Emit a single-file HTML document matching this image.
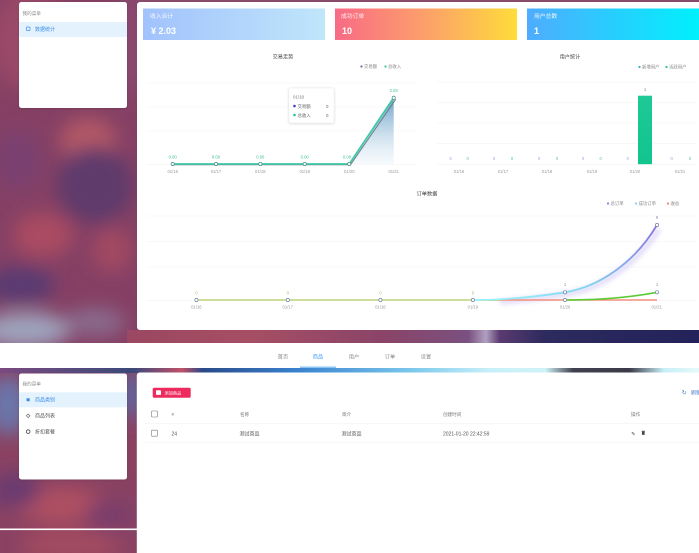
<!DOCTYPE html>
<html><head><meta charset="utf-8">
<style>
html,body{margin:0;padding:0;width:699px;height:553px;overflow:hidden;background:#fff}
svg{display:block}
text{font-family:"Liberation Sans","Noto Sans CJK SC",sans-serif}
</style></head><body>
<svg width="699" height="553" viewBox="0 0 699 553" xmlns="http://www.w3.org/2000/svg">
<defs>
 <filter id="b10" x="-50%" y="-50%" width="200%" height="200%"><feGaussianBlur stdDeviation="9"/></filter>
 <filter id="b3" x="-20%" y="-50%" width="140%" height="200%"><feGaussianBlur stdDeviation="2"/></filter>
 <filter id="sh" x="-20%" y="-20%" width="140%" height="140%"><feDropShadow dx="0" dy="0.5" stdDeviation="1" flood-color="#000" flood-opacity="0.18"/></filter>
 <clipPath id="topc"><rect x="0" y="0" width="699" height="343"/></clipPath>
 <clipPath id="botc"><rect x="0" y="373" width="699" height="180"/></clipPath>
 <linearGradient id="g1" x1="0" x2="1" y1="0" y2="0"><stop offset="0" stop-color="#a1c2fc"/><stop offset="1" stop-color="#c0e6fb"/></linearGradient>
 <linearGradient id="g2" x1="0" x2="1" y1="0" y2="0"><stop offset="0" stop-color="#f86b86"/><stop offset="0.5" stop-color="#fca06a"/><stop offset="1" stop-color="#fedc3a"/></linearGradient>
 <linearGradient id="g3" x1="0" x2="1" y1="0" y2="0"><stop offset="0" stop-color="#4facfe"/><stop offset="1" stop-color="#00f0fe"/></linearGradient>
 <linearGradient id="strip1" gradientUnits="userSpaceOnUse" x1="0" x2="699" y1="0" y2="0">
  <stop offset="0" stop-color="#8a4e78"/><stop offset="0.2" stop-color="#9c4862"/><stop offset="0.36" stop-color="#a64e64"/>
  <stop offset="0.55" stop-color="#8a4468"/><stop offset="0.67" stop-color="#7a5080"/><stop offset="0.695" stop-color="#b0a0c0"/>
  <stop offset="0.715" stop-color="#5a3a70"/><stop offset="0.78" stop-color="#2c2a5e"/><stop offset="1" stop-color="#23225a"/>
 </linearGradient>
 <linearGradient id="strip2" gradientUnits="userSpaceOnUse" x1="0" x2="699" y1="0" y2="0">
  <stop offset="0" stop-color="#7a4a80"/><stop offset="0.19" stop-color="#3a4a7a"/><stop offset="0.26" stop-color="#c05068"/>
  <stop offset="0.29" stop-color="#2a4a8a"/><stop offset="0.43" stop-color="#3a84d0"/><stop offset="0.59" stop-color="#7cc8ec"/>
  <stop offset="0.7" stop-color="#c8f0f8"/><stop offset="0.78" stop-color="#d0f2f8"/><stop offset="0.82" stop-color="#404050"/>
  <stop offset="0.9" stop-color="#3a3a48"/><stop offset="0.95" stop-color="#c8f0f8"/><stop offset="1" stop-color="#e6f8fa"/>
 </linearGradient>
 <linearGradient id="area1" x1="0" x2="0" y1="0" y2="1"><stop offset="0" stop-color="#4f8fbf" stop-opacity="0.85"/><stop offset="1" stop-color="#cfe3f0" stop-opacity="0.2"/></linearGradient>
 <linearGradient id="curve" gradientUnits="userSpaceOnUse" x1="500" y1="300" x2="657" y2="225"><stop offset="0" stop-color="#98f0f8"/><stop offset="0.5" stop-color="#80d4f0"/><stop offset="1" stop-color="#8a74e0"/></linearGradient>
 <linearGradient id="bar" x1="0" x2="0" y1="0" y2="1"><stop offset="0" stop-color="#1ec996"/><stop offset="1" stop-color="#12c48e"/></linearGradient>
</defs>

<!-- TOP BACKGROUND -->
<g clip-path="url(#topc)">
 <rect x="0" y="0" width="699" height="343" fill="#854064"/>
 <g filter="url(#b10)">
  <ellipse cx="30" cy="40" rx="40" ry="50" fill="#9a4a68"/>
  <ellipse cx="130" cy="40" rx="15" ry="60" fill="#8a4870"/>
  <ellipse cx="88" cy="140" rx="28" ry="22" fill="#b25866"/>
  <ellipse cx="95" cy="185" rx="38" ry="38" fill="#5e3a6c"/>
  <ellipse cx="18" cy="160" rx="25" ry="30" fill="#7a4070"/>
  <ellipse cx="43" cy="235" rx="30" ry="22" fill="#aa4c62"/>
  <ellipse cx="112" cy="250" rx="20" ry="22" fill="#a24a62"/>
  <ellipse cx="20" cy="285" rx="35" ry="18" fill="#5a3a72"/>
  <ellipse cx="25" cy="330" rx="45" ry="18" fill="#9ea2bc"/>
  <ellipse cx="95" cy="322" rx="30" ry="14" fill="#8a6a8c"/>
 </g>
 <rect x="127" y="330" width="572" height="13" fill="url(#strip1)"/>
 <rect x="137" y="0" width="562" height="2" fill="#8a4a6a"/>
</g>

<!-- TOP SIDEBAR -->
<rect x="19" y="2" width="108" height="106" rx="2.5" fill="#fff" filter="url(#sh)"/>
<text x="22.5" y="15" font-size="4.6" fill="#888">我的菜单</text>
<rect x="19" y="22" width="108" height="15" fill="#e4f2fd"/>
<rect x="26.5" y="27" width="3.5" height="3.5" rx="0.5" fill="none" stroke="#3a8ee6" stroke-width="0.7"/>
<text x="35" y="31" font-size="5" fill="#3a8ee6">数据统计</text>

<!-- TOP MAIN CARD -->
<rect x="137" y="2" width="566" height="328" rx="3" fill="#fff"/>

<!-- stat cards -->
<rect x="143" y="8.5" width="182" height="31.5" fill="url(#g1)"/>
<text x="150" y="18" font-size="5.8" fill="#fff" fill-opacity="0.9">收入合计</text>
<text x="151" y="34" font-size="9" font-weight="bold" fill="#fff">¥ 2.03</text>
<rect x="335" y="8.5" width="182" height="31.5" fill="url(#g2)"/>
<text x="341" y="18" font-size="5.8" fill="#fff" fill-opacity="0.9">成功订单</text>
<text x="342" y="34" font-size="9" font-weight="bold" fill="#fff">10</text>
<rect x="527" y="8.5" width="172" height="31.5" fill="url(#g3)"/>
<text x="534" y="18" font-size="5.8" fill="#fff" fill-opacity="0.9">用户总数</text>
<text x="534" y="34" font-size="9" font-weight="bold" fill="#fff">1</text>

<!-- CHART 1 -->
<text x="283" y="58.5" font-size="5.2" fill="#444" text-anchor="middle">交易走势</text>
<circle cx="361.5" cy="66.5" r="1.1" fill="#6a6aa8"/><text x="364" y="68.2" font-size="4.4" fill="#888">交易额</text>
<circle cx="385.5" cy="66.5" r="1.1" fill="#3cc4a4"/><text x="388" y="68.2" font-size="4.4" fill="#888">总收入</text>
<g stroke="#f1f1f1" stroke-width="0.6">
 <line x1="147" y1="83" x2="416" y2="83"/><line x1="147" y1="107" x2="416" y2="107"/>
 <line x1="147" y1="131" x2="416" y2="131"/><line x1="147" y1="164.5" x2="416" y2="164.5"/>
</g>
<polygon points="349.3,164 393.7,97.7 393.7,164" fill="url(#area1)"/>
<polyline points="172.7,164 349.3,164 394.5,98.5" fill="none" stroke="#6a7a8a" stroke-width="1" transform="translate(1.2,0.8)"/>
<polyline points="172.7,164 216,164 260.3,164 304.7,164 349.3,164 393.7,97.7" fill="none" stroke="#40c8a6" stroke-width="1.8"/>
<g fill="#fff" stroke="#4a8a84" stroke-width="0.7">
 <circle cx="172.7" cy="164" r="1.6"/><circle cx="216" cy="164" r="1.6"/><circle cx="260.3" cy="164" r="1.6"/>
 <circle cx="304.7" cy="164" r="1.6"/><circle cx="349.3" cy="164" r="1.6"/><circle cx="393.7" cy="97.7" r="1.6"/>
</g>
<g font-size="4.2" fill="#3cbf9c" text-anchor="middle">
 <text x="172.7" y="158.5">0.00</text><text x="216" y="158.5">0.00</text><text x="260.3" y="158.5">0.00</text>
 <text x="304.7" y="158.5">0.00</text><text x="347" y="158.5">0.00</text><text x="393.7" y="92">2.03</text>
</g>
<g font-size="4.2" fill="#999" text-anchor="middle">
 <text x="172.7" y="173">01/16</text><text x="216" y="173">01/17</text><text x="260.3" y="173">01/18</text>
 <text x="304.7" y="173">01/19</text><text x="349.3" y="173">01/20</text><text x="393.7" y="173">01/21</text>
</g>
<!-- tooltip -->
<rect x="289" y="88" width="45" height="35" rx="1.5" fill="#fff" stroke="#eee" stroke-width="0.5" filter="url(#sh)"/>
<text x="293" y="98.5" font-size="4.4" fill="#777">01/18</text>
<circle cx="294.5" cy="106" r="1.3" fill="#3b3bd4"/><text x="297.5" y="107.8" font-size="4.4" fill="#666">交易额</text><text x="326" y="107.8" font-size="4.4" fill="#666">0</text>
<circle cx="294.5" cy="115" r="1.3" fill="#1fc78a"/><text x="297.5" y="116.8" font-size="4.4" fill="#666">总收入</text><text x="326" y="116.8" font-size="4.4" fill="#666">0</text>

<!-- CHART 2 -->
<text x="570" y="58.5" font-size="5.2" fill="#444" text-anchor="middle">用户统计</text>
<circle cx="639.5" cy="67" r="1.1" fill="#3aa8c0"/><text x="642" y="68.7" font-size="4.4" fill="#888">新增用户</text>
<circle cx="666.5" cy="67" r="1.1" fill="#20c48e"/><text x="669" y="68.7" font-size="4.4" fill="#888">活跃用户</text>
<g stroke="#f1f1f1" stroke-width="0.6">
 <line x1="436" y1="82" x2="697" y2="82"/><line x1="436" y1="102.5" x2="697" y2="102.5"/>
 <line x1="436" y1="123" x2="697" y2="123"/><line x1="436" y1="143.5" x2="697" y2="143.5"/>
 <line x1="436" y1="164.5" x2="697" y2="164.5"/>
</g>
<rect x="638" y="95.7" width="14" height="68.5" fill="url(#bar)"/>
<text x="645" y="91" font-size="4.2" fill="#7a8a90" text-anchor="middle">1</text>
<g font-size="4.2" text-anchor="middle">
 <g fill="#a0a0e0"><text x="450.7" y="160">0</text><text x="494" y="160">0</text><text x="539" y="160">0</text><text x="583" y="160">0</text><text x="627.7" y="160">0</text><text x="671.7" y="160">0</text></g>
 <g fill="#52c6a0"><text x="467.7" y="160">0</text><text x="512" y="160">0</text><text x="557" y="160">0</text><text x="600.7" y="160">0</text><text x="690" y="160">0</text></g>
</g>
<g font-size="4.2" fill="#999" text-anchor="middle">
 <text x="459" y="173">01/16</text><text x="503" y="173">01/17</text><text x="547" y="173">01/18</text>
 <text x="592" y="173">01/19</text><text x="635" y="173">01/20</text><text x="680" y="173">01/21</text>
</g>

<!-- CHART 3 -->
<text x="427" y="195.5" font-size="5.2" fill="#444" text-anchor="middle">订单数据</text>
<circle cx="608" cy="203.5" r="1.1" fill="#8a80e0"/><text x="610.5" y="205.2" font-size="4.4" fill="#888">总订单</text>
<circle cx="636" cy="203.5" r="1.1" fill="#7ad6f0"/><text x="638.5" y="205.2" font-size="4.4" fill="#888">成功订单</text>
<circle cx="668" cy="203.5" r="1.1" fill="#f08080"/><text x="670.5" y="205.2" font-size="4.4" fill="#888">收益</text>
<g stroke="#f2f2f2" stroke-width="0.6">
 <line x1="147" y1="216" x2="697" y2="216"/><line x1="147" y1="241.5" x2="697" y2="241.5"/>
 <line x1="147" y1="267" x2="697" y2="267"/><line x1="147" y1="300.5" x2="697" y2="300.5"/>
</g>
<path d="M500,302 C530,300 545,297 567,294 C600,289 635,266 659,229" fill="none" stroke="#cfc6f4" stroke-width="6" stroke-opacity="0.55" filter="url(#b3)"/>
<line x1="480" y1="300" x2="657" y2="300" stroke="#f2907e" stroke-width="1.4"/>
<line x1="196.4" y1="300" x2="500" y2="300" stroke="#bfd27a" stroke-width="1.5"/>
<path d="M565,300 C600,300 630,297.5 657,292.3" fill="none" stroke="#5ccb34" stroke-width="1.6"/>
<path d="M472.9,300 C505,300 535,297 565,292.3 C600,286.5 635,262 657,225" fill="none" stroke="url(#curve)" stroke-width="1.8"/>
<g fill="#fff" stroke="#6a82a0" stroke-width="0.7">
 <circle cx="196.4" cy="300" r="1.6"/><circle cx="287.8" cy="300" r="1.6"/><circle cx="380.4" cy="300" r="1.6"/>
 <circle cx="472.9" cy="300" r="1.6"/><circle cx="565" cy="300" r="1.6"/><circle cx="565" cy="292.3" r="1.6"/>
 <circle cx="657" cy="292.3" r="1.6"/><circle cx="657" cy="225" r="1.6"/>
</g>
<g font-size="4.2" text-anchor="middle">
 <g fill="#c4b06a"><text x="196.4" y="294.5">0</text><text x="287.8" y="294.5">0</text><text x="380.4" y="294.5">0</text><text x="472.9" y="294.5">0</text></g>
 <g fill="#8a8ab0"><text x="657" y="219">9</text><text x="565" y="286">1</text><text x="657" y="286">1</text></g>
</g>
<g font-size="4.2" fill="#999" text-anchor="middle">
 <text x="196.4" y="308.5">01/16</text><text x="287.8" y="308.5">01/17</text><text x="380.4" y="308.5">01/18</text>
 <text x="472.9" y="308.5">01/19</text><text x="565" y="308.5">01/20</text><text x="656.7" y="308.5">01/21</text>
</g>

<!-- NAV BAR -->
<rect x="0" y="343" width="699" height="25" fill="#fff"/>
<g font-size="5.2" fill="#888" text-anchor="middle">
 <text x="283" y="358.5">首页</text><text x="318" y="358.5" fill="#409eff">商品</text>
 <text x="354" y="358.5">用户</text><text x="390" y="358.5">订单</text><text x="426" y="358.5">设置</text>
</g>
<rect x="300" y="366.5" width="36" height="1.5" fill="#8cc4f4"/>
<rect x="0" y="368" width="699" height="5" fill="url(#strip2)"/>

<!-- LOWER BACKGROUND -->
<g clip-path="url(#botc)">
 <rect x="0" y="373" width="699" height="180" fill="#8a4262"/>
 <g filter="url(#b10)">
  <ellipse cx="8" cy="405" rx="20" ry="30" fill="#6a76aa"/>
  <ellipse cx="132" cy="395" rx="10" ry="25" fill="#5a6aa8"/>
  <ellipse cx="60" cy="505" rx="45" ry="18" fill="#ae5062"/>
  <ellipse cx="15" cy="490" rx="25" ry="18" fill="#6a3a70"/>
  <ellipse cx="110" cy="515" rx="25" ry="15" fill="#7a3e6c"/>
  <ellipse cx="70" cy="545" rx="50" ry="14" fill="#a44c60"/>
 </g>
 <rect x="0" y="528.5" width="137" height="1.6" fill="#fff"/>
</g>

<!-- LOWER SIDEBAR -->
<rect x="19" y="373.5" width="108" height="106" rx="2.5" fill="#fff" filter="url(#sh)"/>
<text x="22.5" y="385.5" font-size="4.6" fill="#888">我的菜单</text>
<rect x="19" y="392.3" width="108" height="15" fill="#e4f2fd"/>
<rect x="26.5" y="398.3" width="3.2" height="3" rx="0.4" fill="#3a8ee6"/>
<text x="35" y="401.7" font-size="5" fill="#3a8ee6">商品类别</text>
<path d="M28.2,414 l1.8,1.8 l-1.8,1.8 l-1.8,-1.8 z" fill="none" stroke="#555" stroke-width="0.6"/>
<text x="35" y="417.7" font-size="5" fill="#555">商品列表</text>
<circle cx="28.2" cy="431.6" r="1.8" fill="none" stroke="#555" stroke-width="0.9"/>
<text x="35" y="433.5" font-size="5" fill="#555">折扣套餐</text>

<!-- LOWER MAIN CARD -->
<rect x="136.8" y="372.5" width="566" height="185" rx="3" fill="#fff"/>
<rect x="152.7" y="387.7" width="38" height="10" rx="1.5" fill="#ec2a5e"/>
<rect x="156" y="390.3" width="5" height="4.6" rx="0.8" fill="#fff"/>
<text x="164.5" y="394.5" font-size="4.2" fill="#fff">添加商品</text>
<text x="684.3" y="394.6" font-size="6" fill="#4a7ad0" text-anchor="middle">↻</text>
<text x="691" y="394.5" font-size="5" fill="#4a7ad0">刷新</text>

<rect x="151.5" y="411" width="6" height="6" rx="0.6" fill="none" stroke="#777" stroke-width="0.6"/>
<g font-size="4.6" fill="#777">
 <text x="171.5" y="416">#</text><text x="240" y="416">名称</text><text x="342" y="416">简介</text>
 <text x="443" y="416">创建时间</text><text x="631" y="416">操作</text>
</g>
<line x1="145" y1="423.8" x2="699" y2="423.8" stroke="#eee" stroke-width="0.5"/>
<rect x="151.5" y="430.2" width="6" height="6" rx="0.6" fill="none" stroke="#777" stroke-width="0.6"/>
<g font-size="5" fill="#555">
 <text x="171.5" y="435.3">24</text><text x="239.5" y="435.3">测试商品</text><text x="341.5" y="435.3">测试商品</text>
 <text x="443" y="435.3">2021-01-20 22:42:59</text>
</g>
<text x="633.3" y="435.5" font-size="5" fill="#444" text-anchor="middle">✎</text>
<rect x="642" y="431.5" width="2.6" height="3.4" rx="0.4" fill="#444"/>
<rect x="641.5" y="430.8" width="3.6" height="0.6" fill="#444"/>
<line x1="145" y1="442.5" x2="699" y2="442.5" stroke="#f0f0f0" stroke-width="0.5"/>
</svg>
</body></html>
